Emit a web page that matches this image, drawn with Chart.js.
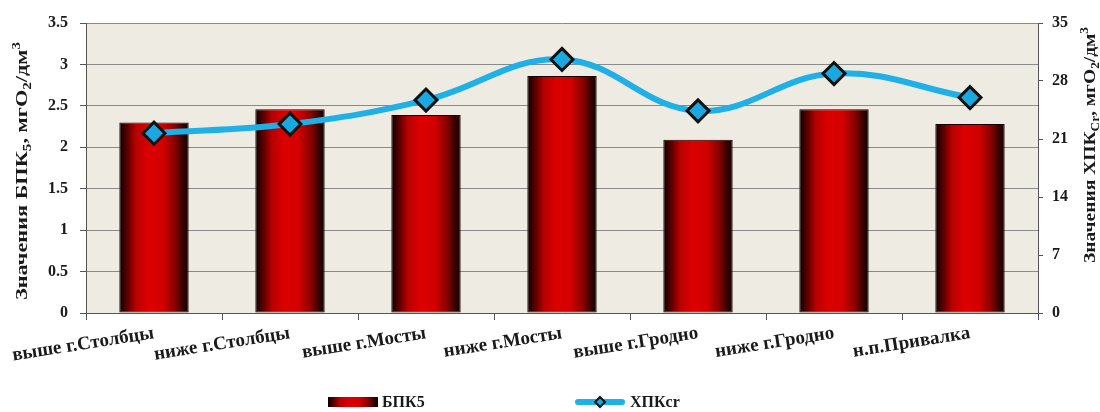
<!DOCTYPE html>
<html>
<head>
<meta charset="utf-8">
<script src="https://cdn.jsdelivr.net/npm/chart.js@4"></script>
<style>
  html, body { margin: 0; padding: 0; background: #fff; }
  #wrap { width: 1100px; height: 412px; }
</style>
</head>
<body>
<div id="wrap"><canvas id="myChart" width="1100" height="412"></canvas></div>
<script>
const categories = ['выше г.Столбцы', 'ниже г.Столбцы', 'выше г.Мосты', 'ниже г.Мосты', 'выше г.Гродно', 'ниже г.Гродно', 'н.п.Привалка'];
const bpk5 = [2.30, 2.46, 2.39, 2.86, 2.09, 2.46, 2.28];
const hpk = [21.7, 22.8, 25.7, 30.6, 24.4, 28.9, 26.0];
const leftTicks = [0, 0.5, 1, 1.5, 2, 2.5, 3, 3.5];
const rightTicks = [0, 7, 14, 21, 28, 35];

const SERIF = '"Liberation Serif", "Times New Roman", serif';
const BAR_PCT = 0.51;

function barGradient(ctx, x0, x1) {
  const g = ctx.createLinearGradient(x0, 0, x1, 0);
  g.addColorStop(0, '#0a0000');
  g.addColorStop(0.1, '#500000');
  g.addColorStop(0.24, '#b80000');
  g.addColorStop(0.42, '#dc0000');
  g.addColorStop(0.62, '#d40000');
  g.addColorStop(0.8, '#8a0000');
  g.addColorStop(0.93, '#300000');
  g.addColorStop(1, '#0a0000');
  return g;
}

// plot area background
const bgPlugin = {
  id: 'plotBg',
  beforeDraw(chart) {
    const a = chart.chartArea;
    const ctx = chart.ctx;
    ctx.save();
    ctx.fillStyle = '#eeebe2';
    ctx.fillRect(a.left, a.top, a.right - a.left, a.bottom - a.top);
    ctx.restore();
  }
};

// vertical text with sub/superscripts, stretched to a given length
function drawRich(ctx, segs, cx, cy, size, length) {
  let total = 0;
  segs.forEach(s => {
    const fs = s.t ? size * 0.68 : size;
    ctx.font = 'bold ' + fs + 'px ' + SERIF;
    s.w = ctx.measureText(s.s).width;
    s.fs = fs;
    total += s.w;
  });
  ctx.save();
  ctx.translate(cx, cy);
  ctx.rotate(-Math.PI / 2);
  ctx.scale(length / total, 1);
  ctx.fillStyle = '#1a1a1a';
  ctx.textBaseline = 'alphabetic';
  let x = -total / 2;
  segs.forEach(s => {
    ctx.font = 'bold ' + s.fs + 'px ' + SERIF;
    let dy = size * 0.35;
    if (s.t === 'sub') dy += size * 0.22;
    if (s.t === 'sup') dy -= size * 0.42;
    ctx.fillText(s.s, x, dy);
    x += s.w;
  });
  ctx.restore();
}

const titlePlugin = {
  id: 'axisTitles',
  afterDraw(chart) {
    const ctx = chart.ctx;
    drawRich(ctx, [
      { s: 'Значения БПК' }, { s: '5', t: 'sub' }, { s: ', мгО' }, { s: '2', t: 'sub' },
      { s: '/дм' }, { s: '3', t: 'sup' }
    ], 21, 171, 17, 258);
    drawRich(ctx, [
      { s: 'Значения ХПК' }, { s: 'Cr', t: 'sub' }, { s: ', мгО' }, { s: '2', t: 'sub' },
      { s: '/дм' }, { s: '3', t: 'sup' }
    ], 1089, 145, 17, 236);
  }
};

// legend below the chart
const legendPlugin = {
  id: 'bottomLegend',
  afterDraw(chart) {
    const ctx = chart.ctx;
    const ds = chart.data.datasets;
    const y = 402;
    ctx.save();
    // bar item
    let x = chart.width / 2 - 222;
    ctx.fillStyle = barGradient(ctx, x, x + 50);
    ctx.fillRect(x, y - 5, 50, 10);
    ctx.font = 'bold 16px ' + SERIF;
    ctx.fillStyle = '#1a1a1a';
    ctx.textBaseline = 'middle';
    ctx.fillText(ds[1].label, x + 54, y + 1);
    // line item
    x = chart.width / 2 + 25;
    ctx.strokeStyle = '#1eb0e6';
    ctx.lineWidth = 6;
    ctx.lineCap = 'round';
    ctx.beginPath();
    ctx.moveTo(x + 3, y);
    ctx.lineTo(x + 47, y);
    ctx.stroke();
    ctx.beginPath();
    ctx.moveTo(x + 25, y - 5);
    ctx.lineTo(x + 30, y);
    ctx.lineTo(x + 25, y + 5);
    ctx.lineTo(x + 20, y);
    ctx.closePath();
    ctx.fillStyle = '#1aa8e0';
    ctx.fill();
    ctx.strokeStyle = '#111';
    ctx.lineWidth = 2;
    ctx.stroke();
    ctx.fillStyle = '#1a1a1a';
    ctx.fillText(ds[0].label, x + 55, y + 1);
    ctx.restore();
  }
};

const ctx = document.getElementById('myChart').getContext('2d');
const chart = new Chart(ctx, {
  type: 'bar',
  data: {
    labels: categories,
    datasets: [
      {
        type: 'line',
        label: 'ХПКcr',
        data: hpk,
        yAxisID: 'y1',
        order: 0,
        borderColor: '#1eb0e6',
        borderWidth: 6,
        tension: 0.4,
        pointStyle: 'rectRot',
        pointRadius: 11,
        pointBackgroundColor: '#1aa8e0',
        pointBorderColor: '#111',
        pointBorderWidth: 3
      },
      {
        type: 'bar',
        label: 'БПК5',
        data: bpk5,
        yAxisID: 'y',
        order: 1,
        barPercentage: BAR_PCT,
        categoryPercentage: 1.0,
        borderColor: '#1a0000',
        borderWidth: 1,
        borderSkipped: false,
        backgroundColor(c) {
          const ch = c.chart;
          const a = ch.chartArea;
          if (!a || c.type !== 'data') return '#b00000';
          const cx = ch.scales.x.getPixelForValue(c.dataIndex);
          const w = (a.right - a.left) / categories.length * BAR_PCT;
          return barGradient(ch.ctx, cx - w / 2, cx + w / 2);
        }
      }
    ]
  },
  options: {
    responsive: false,
    animation: false,
    layout: { padding: { top: 23, left: 0, right: 0, bottom: 0 } },
    plugins: {
      legend: { display: false },
      tooltip: { enabled: false }
    },
    scales: {
      x: {
        offset: true,
        afterFit(s) { s.height = 99; },
        grid: {
          offset: true,
          drawOnChartArea: false,
          drawTicks: true,
          tickLength: 7,
          color: '#555'
        },
        border: { color: '#555', width: 1 },
        ticks: {
          minRotation: 9,
          maxRotation: 9,
          autoSkip: false,
          padding: 2,
          color: '#1a1a1a',
          font: { family: SERIF, size: 19, weight: 'bold' }
        }
      },
      y: {
        position: 'left',
        min: 0,
        max: 3.5,
        afterFit(s) { s.width = 86; },
        afterBuildTicks(s) { s.ticks = leftTicks.map(v => ({ value: v })); },
        grid: { color: '#8a8a8a', tickLength: 6, tickColor: '#555' },
        border: { color: '#555', width: 1 },
        ticks: {
          padding: 12,
          color: '#1a1a1a',
          font: { family: SERIF, size: 16, weight: 'bold' },
          callback: v => String(v)
        }
      },
      y1: {
        position: 'right',
        min: 0,
        max: 35,
        afterFit(s) { s.width = 62; },
        afterBuildTicks(s) { s.ticks = rightTicks.map(v => ({ value: v })); },
        grid: { drawOnChartArea: false, tickLength: 5, color: '#555' },
        border: { color: '#555', width: 1 },
        ticks: {
          padding: 9,
          color: '#1a1a1a',
          font: { family: SERIF, size: 16, weight: 'bold' },
          callback: v => String(v)
        }
      }
    }
  },
  plugins: [bgPlugin, titlePlugin, legendPlugin]
});
</script>
</body>
</html>
